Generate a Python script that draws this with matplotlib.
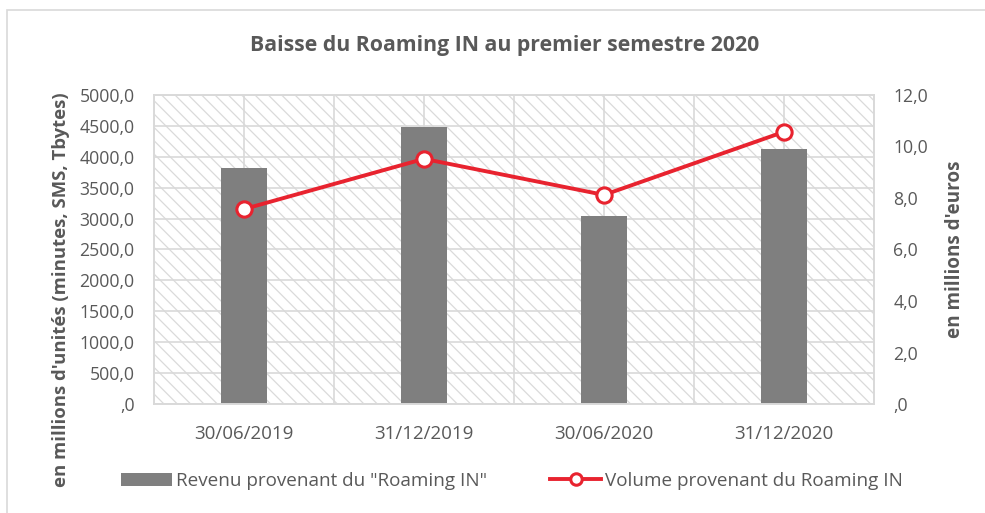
import matplotlib
matplotlib.use("Agg")
import matplotlib.pyplot as plt
from matplotlib.patches import Rectangle
from matplotlib.ticker import FuncFormatter, MultipleLocator
import numpy as np

# data
dates = ["30/06/2019", "31/12/2019", "30/06/2020", "31/12/2020"]
revenu = [3825, 4485, 3035, 4130]          # left axis (bars)
volume = [7.57, 9.52, 8.12, 10.57]         # right axis (line)

label_bars = 'Revenu provenant du "Roaming IN"'
label_line = "Volume provenant du Roaming IN"
title = "Baisse du Roaming IN au premier semestre 2020"
ylabel_left = "en millions d'unités (minutes, SMS, Tbytes)"
ylabel_right = "en millions d'euros"

txt = "#595959"
grid_c = "#d9d9d9"
bar_c = "#7f7f7f"
red = "#e8232f"

# saved at 120 dpi so the background hatch is a bit finer; k keeps pixel sizes
DPI = 120
k = 100 / DPI

plt.rcParams["font.family"] = ["Open Sans", "DejaVu Sans"]
plt.rcParams["hatch.linewidth"] = 0.9 * k


def fr(v, pos=None):
    s = f"{v:.1f}".replace(".", ",")
    if s.startswith("0,"):
        s = s[1:]
    return s


fig = plt.figure(figsize=(985 / DPI, 513 / DPI), dpi=DPI)
# outer chart border (cropped at right / bottom in the reference)
fig.patches.append(Rectangle((7 / 985, -0.1), 1.2, 1 - 10 / 513 + 0.1,
                             transform=fig.transFigure, fill=False,
                             edgecolor=grid_c, lw=1.2 * k))

ax = fig.add_axes([154 / 985, 109 / 513, 720 / 985, 309 / 513])
ax.patch.set_visible(False)
ax.add_patch(Rectangle((0, 0), 1, 1, transform=ax.transAxes, facecolor="white",
                       edgecolor="#dadada", hatch="\\\\\\", lw=0, zorder=0.1))

x = np.arange(len(dates))
ax.bar(x, revenu, width=0.26, color=bar_c, zorder=2, label=label_bars)
ax.set_xlim(-0.5, len(dates) - 0.5)
ax.set_ylim(0, 5000)
ax.yaxis.set_major_locator(MultipleLocator(500))
ax.yaxis.set_major_formatter(FuncFormatter(fr))
ax.set_xticks(x)
ax.set_xticklabels(dates)
ax.xaxis.set_minor_locator(MultipleLocator(0.5))
ax.set_axisbelow(True)
ax.grid(True, which="both", color=grid_c, lw=1.2 * k)
ax.tick_params(which="both", length=0, labelsize=12.7 * k, colors=txt)
ax.tick_params(axis="x", pad=15 * k, labelsize=13.5 * k)
ax.tick_params(axis="y", pad=14 * k)
for s in ax.spines.values():
    s.set_color(grid_c)
    s.set_linewidth(1.2 * k)
ax.set_ylabel(ylabel_left, fontsize=13.3 * k, fontweight="bold", color=txt)
# Excel centres this title lower than the plot area
ax.yaxis.set_label_coords(-0.117, 0.369)

ax2 = ax.twinx()
ax2.plot(x, volume, color=red, lw=2.8 * k, marker="o", markersize=11 * k,
         markerfacecolor="white", markeredgecolor=red, markeredgewidth=2.2 * k,
         zorder=3, label=label_line)
ax2.set_ylim(0, 12)
ax2.yaxis.set_major_locator(MultipleLocator(2))
ax2.yaxis.set_major_formatter(FuncFormatter(fr))
ax2.tick_params(length=0, labelsize=12.7 * k, colors=txt, pad=14 * k)
for s in ax2.spines.values():
    s.set_color(grid_c)
    s.set_linewidth(1.2 * k)
ax2.set_ylabel(ylabel_right, fontsize=13.6 * k, fontweight="bold", color=txt,
               labelpad=12 * k)

fig.text(0.512, 1 - 46 / 513, title, ha="center", va="center",
         fontsize=15.3 * k, fontweight="bold", color=txt)

h1, l1 = ax.get_legend_handles_labels()
h2, l2 = ax2.get_legend_handles_labels()
leg = fig.legend(h1 + h2, l1 + l2, loc="center", ncol=2,
                 bbox_to_anchor=(0.52, 1 - 481 / 513), frameon=False,
                 fontsize=13.6 * k, handlelength=2.7, handletextpad=0.2,
                 columnspacing=3.35, markerscale=0.75)
for t in leg.get_texts():
    t.set_color(txt)

fig.savefig("out.png", dpi=DPI)
